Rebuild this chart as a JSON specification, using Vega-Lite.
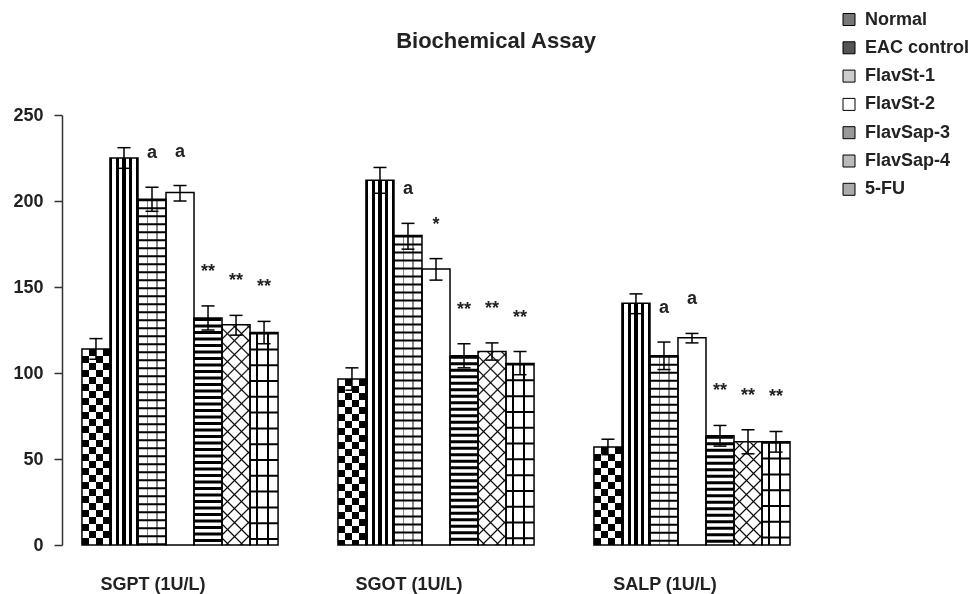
{
  "$schema": "https://vega.github.io/schema/vega-lite/v6.json",
  "autosize": {"type": "none"},
  "padding": {"left": 62, "top": 115, "right": 164, "bottom": 49},
  "width": 748,
  "height": 430,
  "background": "white",
  "title": {"text": "Biochemical Assay", "anchor": "middle", "frame": "group", "dx": 60, "offset": -59, "baseline": "alphabetic", "font": "Liberation Sans", "fontSize": 22, "fontWeight": "bold", "color": "#222"},
  "data": {"values": [
    {"test": "SGPT (1U/L)", "group": "Normal", "mean": 114, "lo": 108, "hi": 120, "sig": ""},
    {"test": "SGPT (1U/L)", "group": "EAC control", "mean": 225, "lo": 219, "hi": 231, "sig": ""},
    {"test": "SGPT (1U/L)", "group": "FlavSt-1", "mean": 201, "lo": 194, "hi": 208, "sig": "a"},
    {"test": "SGPT (1U/L)", "group": "FlavSt-2", "mean": 205, "lo": 200, "hi": 209, "sig": "a"},
    {"test": "SGPT (1U/L)", "group": "FlavSap-3", "mean": 132, "lo": 125, "hi": 139, "sig": "**"},
    {"test": "SGPT (1U/L)", "group": "FlavSap-4", "mean": 128, "lo": 122, "hi": 133.5, "sig": "**"},
    {"test": "SGPT (1U/L)", "group": "5-FU", "mean": 123.5, "lo": 117, "hi": 130, "sig": "**"},
    {"test": "SGOT (1U/L)", "group": "Normal", "mean": 96.5, "lo": 90, "hi": 103, "sig": ""},
    {"test": "SGOT (1U/L)", "group": "EAC control", "mean": 212, "lo": 204.5, "hi": 219.5, "sig": ""},
    {"test": "SGOT (1U/L)", "group": "FlavSt-1", "mean": 180, "lo": 172, "hi": 187, "sig": "a"},
    {"test": "SGOT (1U/L)", "group": "FlavSt-2", "mean": 160.5, "lo": 154, "hi": 166.5, "sig": "*"},
    {"test": "SGOT (1U/L)", "group": "FlavSap-3", "mean": 110, "lo": 103, "hi": 117, "sig": "**"},
    {"test": "SGOT (1U/L)", "group": "FlavSap-4", "mean": 112.5, "lo": 107.5, "hi": 117.5, "sig": "**"},
    {"test": "SGOT (1U/L)", "group": "5-FU", "mean": 105.5, "lo": 99, "hi": 112.5, "sig": "**"},
    {"test": "SALP (1U/L)", "group": "Normal", "mean": 57, "lo": 52.5, "hi": 61.5, "sig": ""},
    {"test": "SALP (1U/L)", "group": "EAC control", "mean": 140.5, "lo": 134.5, "hi": 146, "sig": ""},
    {"test": "SALP (1U/L)", "group": "FlavSt-1", "mean": 110, "lo": 102, "hi": 118, "sig": "a"},
    {"test": "SALP (1U/L)", "group": "FlavSt-2", "mean": 120.5, "lo": 117.5, "hi": 123, "sig": "a"},
    {"test": "SALP (1U/L)", "group": "FlavSap-3", "mean": 63.5, "lo": 57.5, "hi": 69.5, "sig": "**"},
    {"test": "SALP (1U/L)", "group": "FlavSap-4", "mean": 60, "lo": 53, "hi": 67, "sig": "**"},
    {"test": "SALP (1U/L)", "group": "5-FU", "mean": 60, "lo": 54, "hi": 66, "sig": "**"}
  ]},
  "encoding": {
    "x": {"field": "test", "type": "nominal", "title": null,
      "scale": {"domain": ["SGPT (1U/L)", "SGOT (1U/L)", "SALP (1U/L)"], "paddingInner": 0.234, "paddingOuter": 0.078},
      "axis": {"domain": false, "ticks": false, "labelAngle": 0, "labelPadding": 30, "labelOffset": -27, "labelFont": "Liberation Sans", "labelFontSize": 18, "labelFontWeight": "bold", "labelColor": "#222"}},
    "xOffset": {"field": "group", "type": "nominal",
      "scale": {"domain": ["Normal", "EAC control", "FlavSt-1", "FlavSt-2", "FlavSap-3", "FlavSap-4", "5-FU"], "paddingInner": 0, "paddingOuter": 0}}
  },
  "layer": [
    {
      "mark": {"type": "bar", "strokeWidth": 0},
      "encoding": {
        "y": {"field": "mean", "type": "quantitative", "title": null,
          "scale": {"domain": [0, 250], "nice": false},
          "axis": {"values": [0, 50, 100, 150, 200, 250], "grid": false, "tickSize": 8, "tickColor": "#333", "tickWidth": 1.5, "domainColor": "#333", "domainWidth": 1.5, "labelPadding": 11, "labelFont": "Liberation Sans", "labelFontSize": 18, "labelFontWeight": "bold", "labelColor": "#222"}},
        "color": {"field": "group", "type": "nominal",
          "scale": {"domain": ["Normal", "EAC control", "FlavSt-1", "FlavSt-2", "FlavSap-3", "FlavSap-4", "5-FU"],
            "range": ["#777777", "#555555", "#cccccc", "#ffffff", "#999999", "#bbbbbb", "#aaaaaa"]},
          "legend": {"orient": "none", "legendX": 778, "legendY": -104.5, "title": null, "symbolType": "square", "symbolSize": 144, "symbolStrokeColor": "black", "symbolStrokeWidth": 1, "symbolOpacity": 1, "labelFont": "Liberation Sans", "labelFontSize": 18, "labelFontWeight": "bold", "labelColor": "#222", "labelOffset": 7, "rowPadding": 10.3, "padding": 0}
        }
      }
    },
    {
      "transform": [{"filter": "datum.group === 'Normal'"}],
      "mark": {"type": "bar", "strokeWidth": 0, "fill": {"gradient": "linear", "x1": 0, "y1": 0, "x2": 1, "y2": 0, "stops": [{"offset": 0, "color": "black"}, {"offset": 0.25, "color": "black"}, {"offset": 0.25, "color": "white"}, {"offset": 0.5, "color": "white"}, {"offset": 0.5, "color": "black"}, {"offset": 0.75, "color": "black"}, {"offset": 0.75, "color": "white"}, {"offset": 1, "color": "white"}]}},
      "encoding": {"y": {"field": "mean", "type": "quantitative", "title": null}}
    },
    {
      "transform": [{"filter": "datum.group === 'EAC control'"}],
      "mark": {"type": "bar", "strokeWidth": 0, "fill": {"gradient": "linear", "x1": 0, "y1": 0, "x2": 1, "y2": 0, "stops": [{"offset": 0, "color": "black"}, {"offset": 0.07, "color": "black"}, {"offset": 0.07, "color": "white"}, {"offset": 0.21, "color": "white"}, {"offset": 0.21, "color": "black"}, {"offset": 0.31, "color": "black"}, {"offset": 0.31, "color": "white"}, {"offset": 0.44, "color": "white"}, {"offset": 0.44, "color": "black"}, {"offset": 0.56, "color": "black"}, {"offset": 0.56, "color": "white"}, {"offset": 0.69, "color": "white"}, {"offset": 0.69, "color": "black"}, {"offset": 0.79, "color": "black"}, {"offset": 0.79, "color": "white"}, {"offset": 0.93, "color": "white"}, {"offset": 0.93, "color": "black"}, {"offset": 1, "color": "black"}]}},
      "encoding": {"y": {"field": "mean", "type": "quantitative", "title": null}}
    },
    {
      "transform": [{"filter": "datum.group === 'FlavSt-1'"}],
      "mark": {"type": "bar", "strokeWidth": 0, "fill": {"gradient": "linear", "x1": 0, "y1": 0, "x2": 1, "y2": 0, "stops": [{"offset": 0, "color": "white"}, {"offset": 0.32, "color": "white"}, {"offset": 0.32, "color": "#888888"}, {"offset": 0.37, "color": "#888888"}, {"offset": 0.37, "color": "white"}, {"offset": 0.65, "color": "white"}, {"offset": 0.65, "color": "#888888"}, {"offset": 0.7, "color": "#888888"}, {"offset": 0.7, "color": "white"}, {"offset": 1, "color": "white"}]}},
      "encoding": {"y": {"field": "mean", "type": "quantitative", "title": null}}
    },
    {
      "transform": [{"filter": "datum.group === 'FlavSap-3'"}],
      "mark": {"type": "bar", "strokeWidth": 0, "fill": "white"},
      "encoding": {"y": {"field": "mean", "type": "quantitative", "title": null}}
    },
    {
      "transform": [{"filter": "datum.group === '5-FU'"}],
      "mark": {"type": "bar", "strokeWidth": 0, "fill": {"gradient": "linear", "x1": 0, "y1": 0, "x2": 1, "y2": 0, "stops": [{"offset": 0, "color": "white"}, {"offset": 0.22, "color": "white"}, {"offset": 0.22, "color": "black"}, {"offset": 0.28, "color": "black"}, {"offset": 0.28, "color": "white"}, {"offset": 0.62, "color": "white"}, {"offset": 0.62, "color": "black"}, {"offset": 0.68, "color": "black"}, {"offset": 0.68, "color": "white"}, {"offset": 1, "color": "white"}]}},
      "encoding": {"y": {"field": "mean", "type": "quantitative", "title": null}}
    },
    {
      "transform": [{"filter": "datum.group === 'Normal'"}],
      "mark": {"type": "rule", "stroke": "white", "strokeWidth": 28, "strokeDash": [7, 7], "strokeCap": "butt", "blend": "difference"},
      "encoding": {"y": {"field": "mean", "type": "quantitative", "title": null}, "y2": {"datum": 0}}
    },
    {
      "transform": [{"filter": "datum.group === 'FlavSt-1' || datum.group === 'FlavSap-3' || datum.group === '5-FU'"}],
      "mark": {"type": "rule", "stroke": "black", "strokeWidth": 28, "strokeCap": "butt"},
      "encoding": {
        "y": {"field": "mean", "type": "quantitative", "title": null}, "y2": {"datum": 0},
        "strokeDash": {"field": "group", "type": "nominal", "legend": null,
          "scale": {"domain": ["FlavSt-1", "FlavSap-3", "5-FU"], "range": [[2, 6], [3, 3.5], [2, 13.8]]}}
      }
    },
    {
      "transform": [{"filter": "datum.group === 'FlavSap-4'"}],
      "mark": {"type": "bar", "strokeWidth": 0, "fill": {"gradient": "linear", "x1": 0, "y1": 0, "x2": 0.1276, "y2": 1.1, "stops": [
        {"offset": 0.020, "color": "white"}, {"offset": 0.026, "color": "black"}, {"offset": 0.032, "color": "white"},
        {"offset": 0.072, "color": "white"}, {"offset": 0.078, "color": "black"}, {"offset": 0.084, "color": "white"},
        {"offset": 0.124, "color": "white"}, {"offset": 0.130, "color": "black"}, {"offset": 0.136, "color": "white"},
        {"offset": 0.176, "color": "white"}, {"offset": 0.182, "color": "black"}, {"offset": 0.188, "color": "white"},
        {"offset": 0.228, "color": "white"}, {"offset": 0.234, "color": "black"}, {"offset": 0.240, "color": "white"},
        {"offset": 0.281, "color": "white"}, {"offset": 0.287, "color": "black"}, {"offset": 0.293, "color": "white"},
        {"offset": 0.333, "color": "white"}, {"offset": 0.339, "color": "black"}, {"offset": 0.345, "color": "white"},
        {"offset": 0.385, "color": "white"}, {"offset": 0.391, "color": "black"}, {"offset": 0.397, "color": "white"},
        {"offset": 0.437, "color": "white"}, {"offset": 0.443, "color": "black"}, {"offset": 0.449, "color": "white"},
        {"offset": 0.489, "color": "white"}, {"offset": 0.495, "color": "black"}, {"offset": 0.501, "color": "white"},
        {"offset": 0.541, "color": "white"}, {"offset": 0.547, "color": "black"}, {"offset": 0.553, "color": "white"},
        {"offset": 0.593, "color": "white"}, {"offset": 0.599, "color": "black"}, {"offset": 0.605, "color": "white"},
        {"offset": 0.645, "color": "white"}, {"offset": 0.651, "color": "black"}, {"offset": 0.657, "color": "white"},
        {"offset": 0.697, "color": "white"}, {"offset": 0.703, "color": "black"}, {"offset": 0.709, "color": "white"},
        {"offset": 0.749, "color": "white"}, {"offset": 0.755, "color": "black"}, {"offset": 0.761, "color": "white"},
        {"offset": 0.801, "color": "white"}, {"offset": 0.807, "color": "black"}, {"offset": 0.813, "color": "white"},
        {"offset": 0.854, "color": "white"}, {"offset": 0.860, "color": "black"}, {"offset": 0.866, "color": "white"},
        {"offset": 0.906, "color": "white"}, {"offset": 0.912, "color": "black"}, {"offset": 0.918, "color": "white"},
        {"offset": 0.958, "color": "white"}, {"offset": 0.964, "color": "black"}, {"offset": 0.970, "color": "white"}
      ]}},
      "encoding": {"y": {"datum": 140}, "y2": {"datum": 0}}
    },
    {
      "transform": [{"filter": "datum.group === 'FlavSap-4'"}],
      "mark": {"type": "bar", "strokeWidth": 0, "fill": {"gradient": "linear", "x1": 0, "y1": 1, "x2": 0.1276, "y2": -0.1, "stops": [
        {"offset": 0.020, "color": "rgba(0,0,0,0)"}, {"offset": 0.026, "color": "black"}, {"offset": 0.032, "color": "rgba(0,0,0,0)"},
        {"offset": 0.072, "color": "rgba(0,0,0,0)"}, {"offset": 0.078, "color": "black"}, {"offset": 0.084, "color": "rgba(0,0,0,0)"},
        {"offset": 0.124, "color": "rgba(0,0,0,0)"}, {"offset": 0.130, "color": "black"}, {"offset": 0.136, "color": "rgba(0,0,0,0)"},
        {"offset": 0.176, "color": "rgba(0,0,0,0)"}, {"offset": 0.182, "color": "black"}, {"offset": 0.188, "color": "rgba(0,0,0,0)"},
        {"offset": 0.228, "color": "rgba(0,0,0,0)"}, {"offset": 0.234, "color": "black"}, {"offset": 0.240, "color": "rgba(0,0,0,0)"},
        {"offset": 0.281, "color": "rgba(0,0,0,0)"}, {"offset": 0.287, "color": "black"}, {"offset": 0.293, "color": "rgba(0,0,0,0)"},
        {"offset": 0.333, "color": "rgba(0,0,0,0)"}, {"offset": 0.339, "color": "black"}, {"offset": 0.345, "color": "rgba(0,0,0,0)"},
        {"offset": 0.385, "color": "rgba(0,0,0,0)"}, {"offset": 0.391, "color": "black"}, {"offset": 0.397, "color": "rgba(0,0,0,0)"},
        {"offset": 0.437, "color": "rgba(0,0,0,0)"}, {"offset": 0.443, "color": "black"}, {"offset": 0.449, "color": "rgba(0,0,0,0)"},
        {"offset": 0.489, "color": "rgba(0,0,0,0)"}, {"offset": 0.495, "color": "black"}, {"offset": 0.501, "color": "rgba(0,0,0,0)"},
        {"offset": 0.541, "color": "rgba(0,0,0,0)"}, {"offset": 0.547, "color": "black"}, {"offset": 0.553, "color": "rgba(0,0,0,0)"},
        {"offset": 0.593, "color": "rgba(0,0,0,0)"}, {"offset": 0.599, "color": "black"}, {"offset": 0.605, "color": "rgba(0,0,0,0)"},
        {"offset": 0.645, "color": "rgba(0,0,0,0)"}, {"offset": 0.651, "color": "black"}, {"offset": 0.657, "color": "rgba(0,0,0,0)"},
        {"offset": 0.697, "color": "rgba(0,0,0,0)"}, {"offset": 0.703, "color": "black"}, {"offset": 0.709, "color": "rgba(0,0,0,0)"},
        {"offset": 0.749, "color": "rgba(0,0,0,0)"}, {"offset": 0.755, "color": "black"}, {"offset": 0.761, "color": "rgba(0,0,0,0)"},
        {"offset": 0.801, "color": "rgba(0,0,0,0)"}, {"offset": 0.807, "color": "black"}, {"offset": 0.813, "color": "rgba(0,0,0,0)"},
        {"offset": 0.854, "color": "rgba(0,0,0,0)"}, {"offset": 0.860, "color": "black"}, {"offset": 0.866, "color": "rgba(0,0,0,0)"},
        {"offset": 0.906, "color": "rgba(0,0,0,0)"}, {"offset": 0.912, "color": "black"}, {"offset": 0.918, "color": "rgba(0,0,0,0)"},
        {"offset": 0.958, "color": "rgba(0,0,0,0)"}, {"offset": 0.964, "color": "black"}, {"offset": 0.970, "color": "rgba(0,0,0,0)"}
      ]}},
      "encoding": {"y": {"datum": 140}, "y2": {"datum": 0}}
    },
    {
      "transform": [{"filter": "datum.group === 'FlavSap-4'"}],
      "mark": {"type": "bar", "fill": "white", "stroke": "white", "strokeWidth": 1},
      "encoding": {"y": {"field": "mean", "type": "quantitative", "title": null}, "y2": {"datum": 143}}
    },
    {
      "mark": {"type": "bar", "fill": "transparent", "stroke": "black", "strokeWidth": 1.5},
      "encoding": {"y": {"field": "mean", "type": "quantitative", "title": null}}
    },
    {
      "mark": {"type": "rule", "stroke": "black", "strokeWidth": 1.5},
      "encoding": {"y": {"field": "lo", "type": "quantitative", "title": null}, "y2": {"field": "hi"}}
    },
    {
      "mark": {"type": "tick", "color": "black", "size": 13, "thickness": 1.5, "opacity": 1},
      "encoding": {"y": {"field": "hi", "type": "quantitative", "title": null}}
    },
    {
      "mark": {"type": "tick", "color": "black", "size": 13, "thickness": 1.5, "opacity": 1},
      "encoding": {"y": {"field": "lo", "type": "quantitative", "title": null}}
    },
    {
      "transform": [{"filter": "datum.sig !== ''"}],
      "mark": {"type": "text", "font": "Liberation Sans", "fontSize": 18, "fontWeight": "bold", "baseline": "middle", "dy": -34, "color": "#222"},
      "encoding": {"y": {"field": "hi", "type": "quantitative", "title": null}, "text": {"field": "sig"}}
    }
  ],
  "config": {"view": {"stroke": null}}
}
